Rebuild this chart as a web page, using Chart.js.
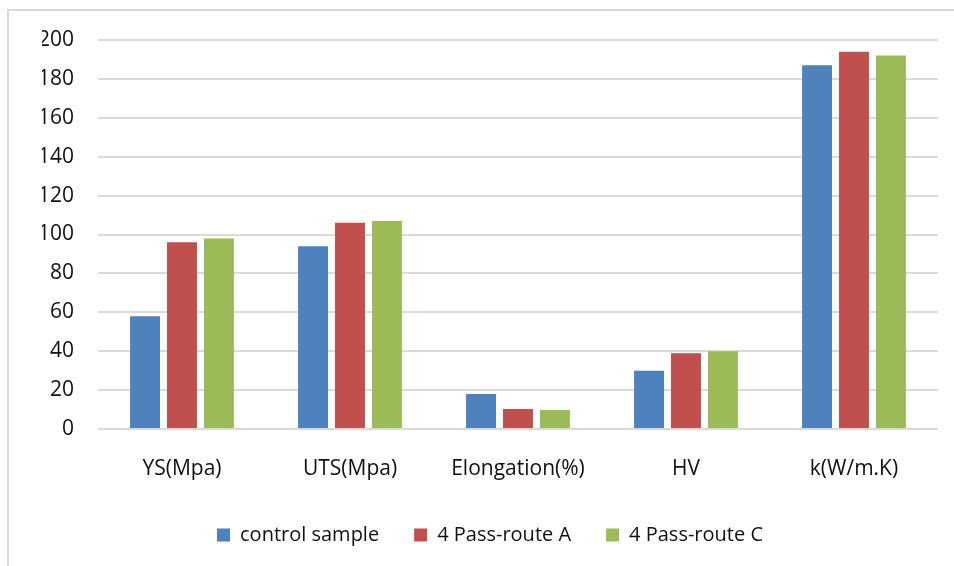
<!DOCTYPE html>
<html>
<head>
<meta charset="utf-8">
<script src="https://cdn.jsdelivr.net/npm/chart.js@4"></script>
<style>
  body { margin: 0; background: #fff; overflow: hidden; }
  #wrap { position: relative; width: 954px; height: 566px; }
  #frame { position: absolute; left: 7px; top: 9px; width: 1000px; height: 1000px; border: 2px solid #d9d9d9; }
  canvas { position: absolute; left: 0; top: 0; }
</style>
</head>
<body>
<div id="wrap">
  <div id="frame"></div>
  <canvas id="chart" width="954" height="566"></canvas>
</div>
<script>
// categories and series
const categories = ["YS(Mpa)", "UTS(Mpa)", "Elongation(%)", "HV", "k(W/m.K)"];
const controlSample = [58, 94, 18, 30, 187];
const routeA = [96, 106, 10.3, 39, 194];
const routeC = [98, 107, 9.8, 40, 192];
const seriesNames = ["control sample", "4 Pass-route A", "4 Pass-route C"];
const yTicks = [0, 20, 40, 60, 80, 100, 120, 140, 160, 180, 200];

const font = { family: "'Open Sans', sans-serif", size: 21 };
const legendFont = { family: "'Open Sans', sans-serif", size: 20 };

new Chart(document.getElementById("chart"), {
  type: "bar",
  data: {
    labels: categories,
    datasets: [
      { label: seriesNames[0], data: controlSample, backgroundColor: "#4F81BD" },
      { label: seriesNames[1], data: routeA, backgroundColor: "#C0504D" },
      { label: seriesNames[2], data: routeC, backgroundColor: "#9BBB59" }
    ]
  },
  options: {
    responsive: false,
    animation: false,
    categoryPercentage: 0.66,
    barPercentage: 0.81,
    layout: { padding: { left: 42, right: 16, top: 40, bottom: 11 } },
    plugins: {
      tooltip: { enabled: false },
      legend: {
        position: "bottom",
        labels: {
          boxWidth: 13,
          boxHeight: 13,
          padding: 35,
          color: "#111",
          font: legendFont
        }
      }
    },
    scales: {
      x: {
        grid: { display: false },
        border: { display: false },
        ticks: { color: "#111", font: font, padding: 19, maxRotation: 0 },
        afterFit: s => { s.height = 61; }
      },
      y: {
        min: 0,
        max: 200,
        afterBuildTicks: s => { s.ticks = yTicks.map(v => ({ value: v })); },
        grid: { color: "#dadada", lineWidth: 2, drawTicks: false },
        border: { display: false },
        ticks: { color: "#111", font: font, padding: 24 },
        afterFit: s => { s.width = 56; }
      }
    }
  }
});
</script>
</body>
</html>
